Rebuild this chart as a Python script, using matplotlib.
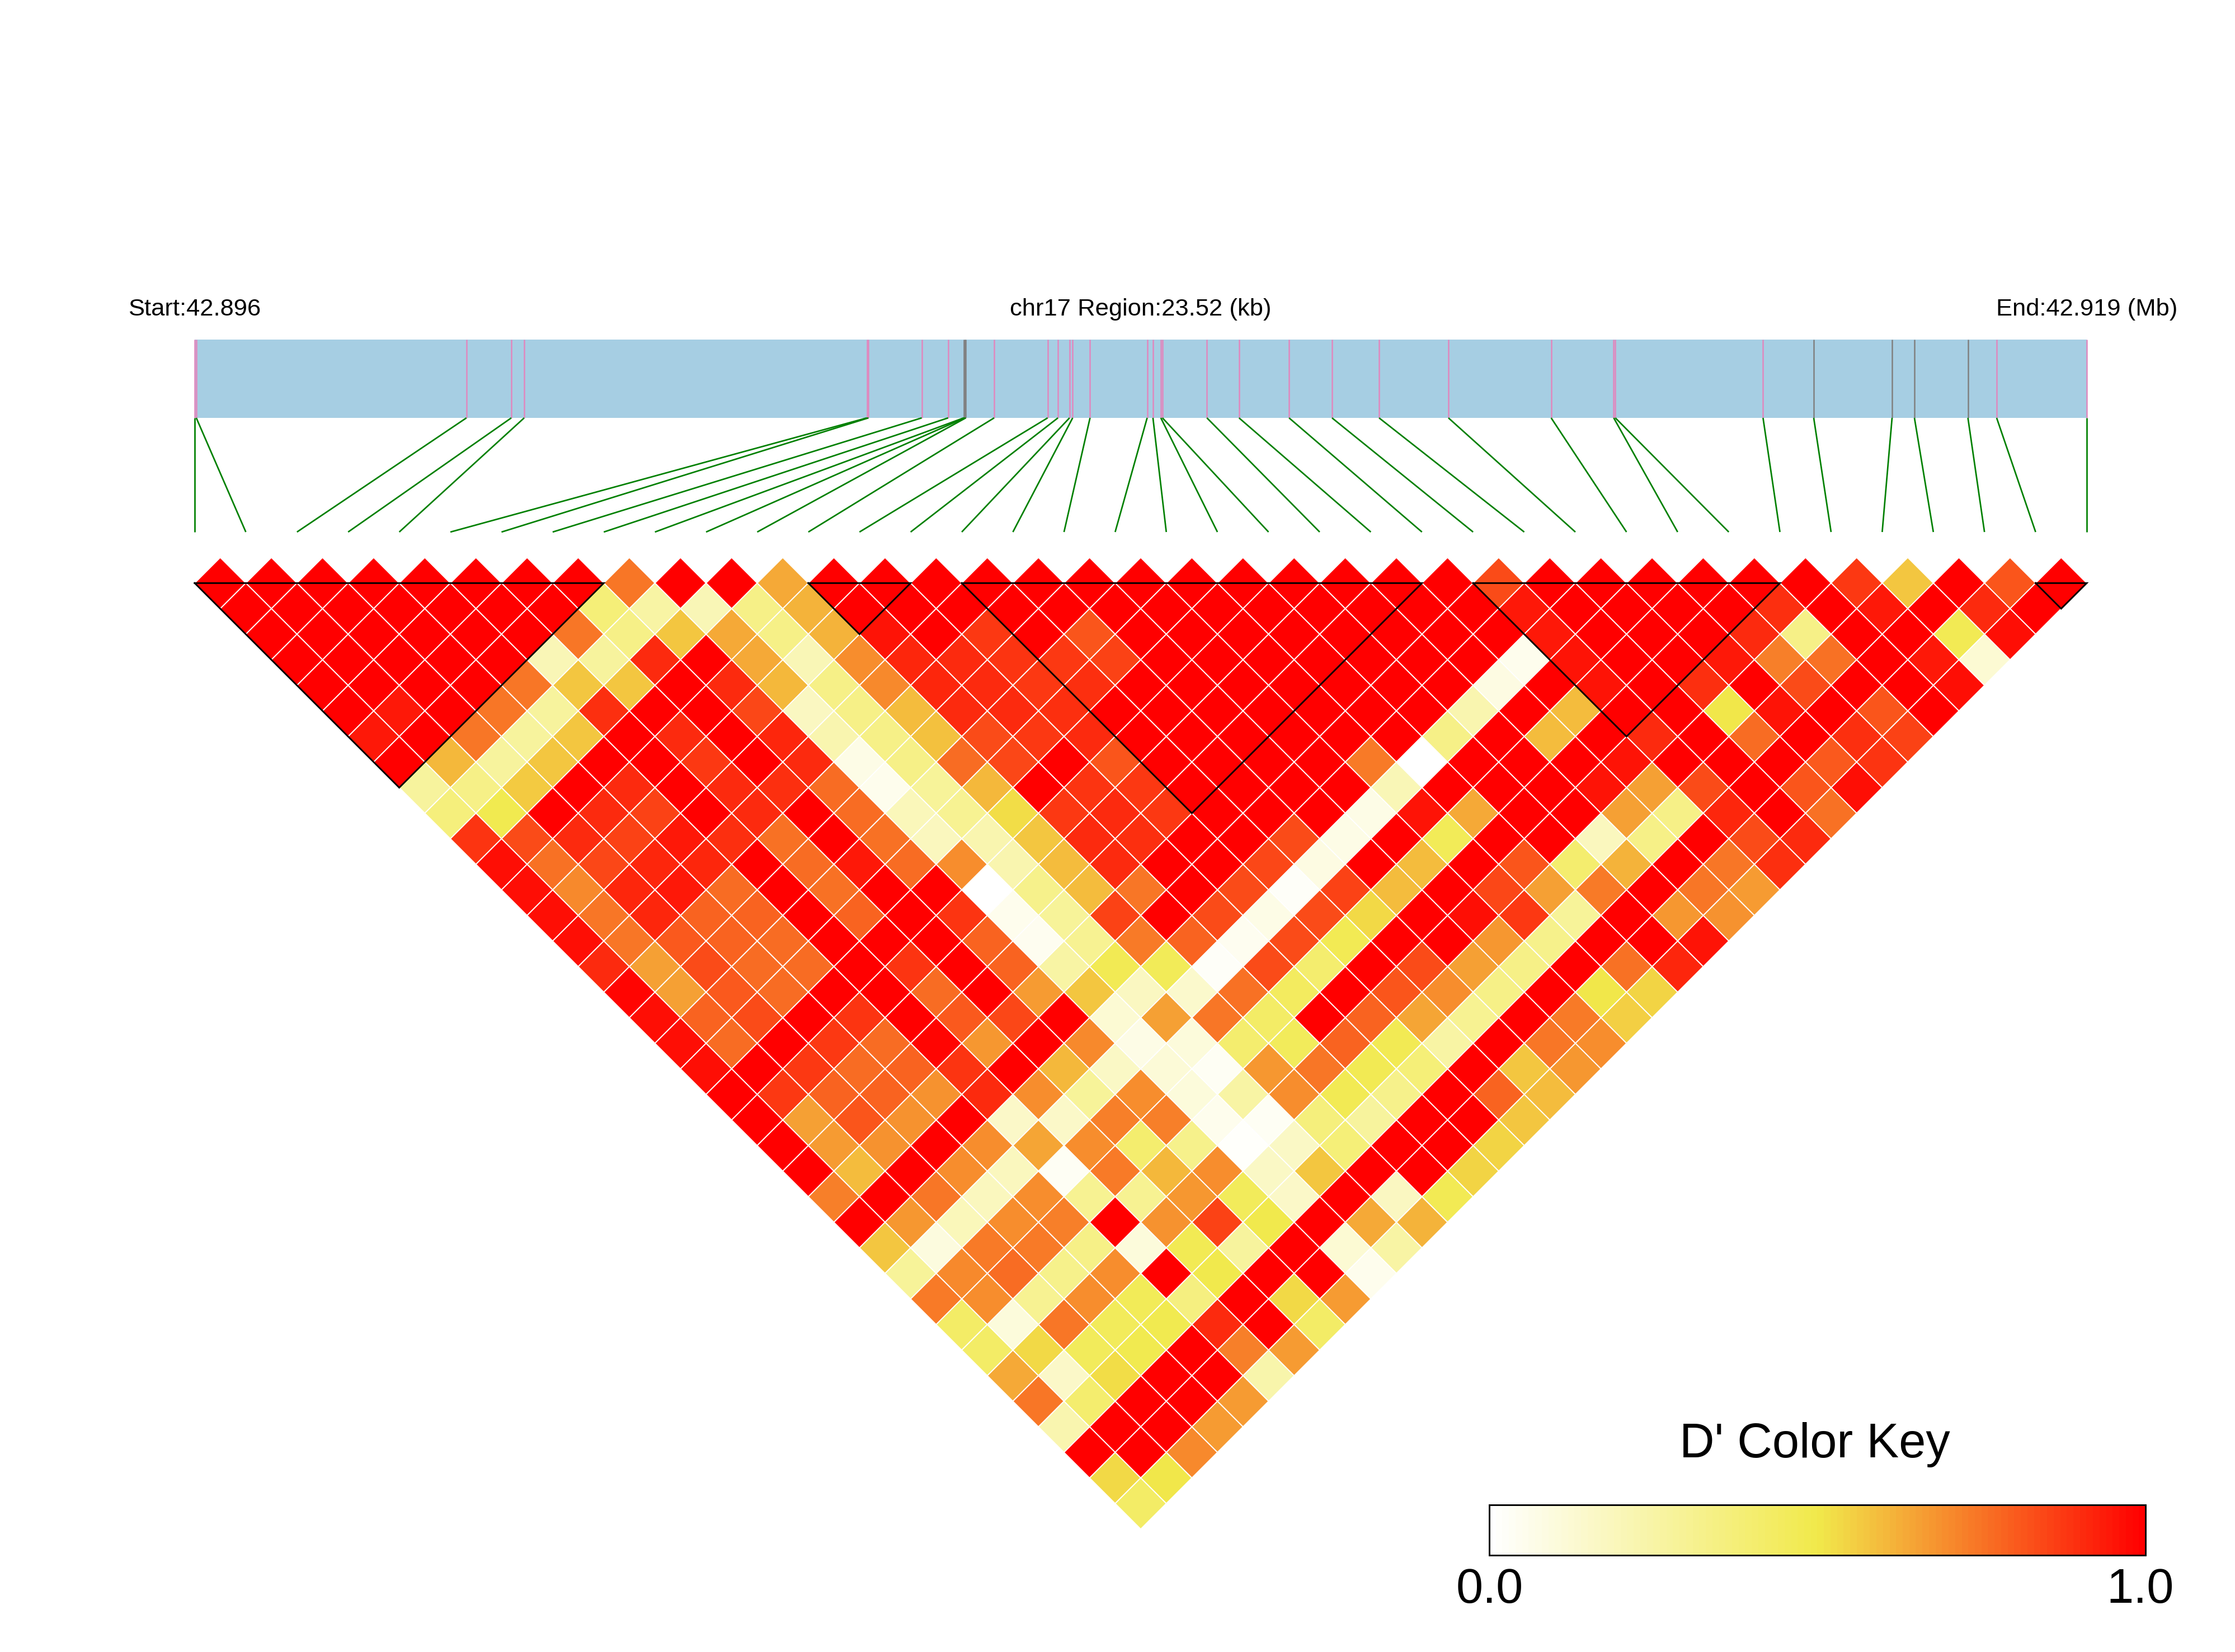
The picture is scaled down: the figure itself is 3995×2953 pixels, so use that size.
import matplotlib
matplotlib.use('Agg')
import matplotlib.pyplot as plt
import numpy as np
from matplotlib.collections import PolyCollection, LineCollection
from matplotlib.colors import LinearSegmentedColormap
from matplotlib.patches import Rectangle

plt.rcParams['font.family'] = ['Liberation Sans', 'DejaVu Sans']

# SNP positions, kb from the start of the region
snp_kb = [0.0, 0.02, 3.378, 3.936, 4.096, 8.356, 8.376, 9.038, 9.366, 9.56, 9.573, 9.586, 9.938,
          10.603, 10.731, 10.875, 10.914, 11.13, 11.84, 11.912, 12.01, 12.03, 12.583, 12.982,
          13.604, 14.138, 14.723, 15.585, 16.862, 17.64, 17.66, 19.496, 20.126, 21.1, 21.378,
          22.043, 22.4, 23.52]
grey_snps = [9, 10, 11, 32, 33, 34, 35]
blocks = [(0, 8), (12, 14), (15, 24), (25, 31), (36, 37)]

# D' values, one list per horizontal row of the triangle, top row first
row_01 = [1]*8 + [.74, 1, 1, .63] + [1]*13 + [.83] + [1]*6 + [.87, .575, 1, .815, 1]
row_02 = [1]*7 + [.37, .25, .2, .33, .61] + [1]*13 + [.94, 1, 1, 1, 1, .895, 1, .94, 1, .905, 1]
row_03 = [1]*6 + [.74, .33, .575, .63, .33, .61, .95, 1, .87, 1, .815] + [1]*8 + [.94, 1, 1, 1, .905, .33, 1, 1, .47, .96]
row_04 = [1]*5 + [.2, .27, .905, 1, .63, .2, .69, .915, .905, .885, .87, .855] + [1]*7 + [.05, .95, 1, 1, .94, .72, .755, 1, .94, .12]
row_05 = [1]*4 + [.74, .58, .575, 1, .905, .60, .33, .70, .915, .905, .87, .895] + [1]*7 + [.08, 1, .95, 1, .895, 1, .83, 1, 1, .96]
row_06 = [1, .94, 1, .74, .27, .895, 1, 1, .845, .17, .33, .59, .905, .905, .895] + [1]*7 + [.22, 1, .595, 1, 1, .5, .95, 1, .815, 1]
row_07 = [.94, 1, .74, .27, .575, 1, .905, 1, .915, .22, .33, .585, .83, .87, .905] + [1]*6 + [.33, 1, .595, 1, .905, 1, .765, 1, .895, .855]
row_08 = [1, .60, .27, .58, 1, 1, .87, 1, .905, .07, .33, .765, .845, 1, .815, 1, 1, 1, 1, .73, 0, 1, 1, 1, .95, 1, 1, 1, .80, .885]
row_09 = [.27, .33, .56, 1, .905, 1, .905, .895, .765, .05, .28, .60, 1, .885, .87, 1, 1, 1, 1, .2, 1, 1, 1, .95, .65, .83, 1, .815, .96]
row_10 = [.36, .48, 1, .905, .855, 1, .905, 1, .765, .19, .3, .52, .87, .905, .87, 1, 1, 1, .07, .95, .63, 1, 1, .65, .33, .915, 1, .755]
row_11 = [.885, .83, .905, .855, .94, .895, .755, 1, .755, .18, .22, .575, .905, .895, 1, 1, .83, .07, 1, .46, 1, 1, .18, .33, 1, .83, .905]
row_12 = [.96, .755, .845, .915, .915, 1, .765, .94, .765, .69, .22, .595, .905, 1, 1, .845, .08, 1, .59, 1, .815, .4, .61, 1, .74, .895]
row_13 = [.96, .70, .915, .94, .765, 1, .755, 1, 1, 0, .32, .595, .74, 1, .83, .02, .855, .59, 1, .845, .65, .73, 1, .74, .66]
row_14 = [.96, .745, .915, .78, .78, 1, .78, 1, .885, .05, .28, .855, 1, .83, .07, .83, .53, 1, .96, .87, .28, 1, .67, .68]
row_15 = [.96, .745, .80, .78, .765, 1, 1, 1, .78, .04, .3, .73, .78, .04, .83, .47, 1, 1, .67, .32, 1, 1, .95]
row_16 = [.905, .65, .83, .765, .765, 1, .885, 1, .78, .25, .47, .46, .02, .83, .4, 1, .83, .65, .33, 1, .755, .915]
row_17 = [.98, .65, .80, .765, 1, 1, .765, 1, .66, .575, .17, .14, .755, .44, 1, .815, .69, .33, 1, .5, .54]
row_18 = [.96, .78, .83, 1, .885, 1, .80, .845, 1, .12, .65, .745, .42, 1, .78, .64, .3, 1, .73, .55]
row_19 = [.96, .765, 1, .87, .765, .98, .67, 1, .70, .07, .1, .4, .45, .78, .47, .25, 1, .74, .69]
row_20 = [.96, 1, .87, .765, .78, .885, 1, .60, .16, .11, .03, .67, .74, .47, .37, 1, .575, .67]
row_21 = [1, .87, .78, .78, .68, .905, .69, .28, .69, .1, .25, .69, .47, .32, 1, .78, .59]
row_22 = [1, .65, .815, .68, 1, .15, .15, .72, .72, .05, .03, .36, .27, 1, 1, .575]
row_23 = [1, .66, .68, 1, .69, .64, .69, .4, .32, .01, .16, .37, 1, 1, .54]
row_24 = [1, .59, 1, .69, .18, .03, .73, .60, .69, .16, .575, 1, 1, .54]
row_25 = [.72, 1, .74, .18, .69, .3, .3, .67, .45, .15, 1, .17, .47]
row_26 = [1, .67, .19, .69, .72, 1, .68, .855, .49, 1, .63, .61]
row_27 = [.58, .09, .73, .73, .33, .1, .47, .27, 1, .12, .25]
row_28 = [.29, .70, .765, .32, .69, 1, .49, 1, 1, .05]
row_29 = [.73, .69, .3, .69, .46, .35, 1, .53, .66]
row_30 = [.42, .1, .74, .45, .48, .905, 1, .42]
row_31 = [.42, .53, .45, .48, 1, .72, .66]
row_32 = [.63, .15, .52, 1, 1, .23]
row_33 = [.74, .4, 1, 1, .66]
row_34 = [.22, 1, 1, .66]
row_35 = [1, 1, .70]
row_36 = [.53, .505]
row_37 = [.42]
rows = [row_01, row_02, row_03, row_04, row_05, row_06, row_07, row_08, row_09, row_10,
        row_11, row_12, row_13, row_14, row_15, row_16, row_17, row_18, row_19, row_20,
        row_21, row_22, row_23, row_24, row_25, row_26, row_27, row_28, row_29, row_30,
        row_31, row_32, row_33, row_34, row_35, row_36, row_37]
n_snps = len(snp_kb)
assert all(len(r) == n_snps - d - 1 for d, r in enumerate(rows))

# Layout, in pixels of the final picture
X0, X1 = 348.0, 3730.0
STEP = (X1 - X0) / (n_snps - 1)
HALF = STEP / 2
Y_MID = 1042.3
BAR_TOP, BAR_BOT, LINK_BOT = 607.0, 747.0, 951.0
KEY_L, KEY_R, KEY_T, KEY_B = 2662.0, 3835.0, 2690.0, 2780.0

ld_cmap = LinearSegmentedColormap.from_list(
    'ld', [(0, '#FFFFFF'), (0.5, '#F1E94B'), (1, '#FF0000')], N=100)

fig = plt.figure(figsize=(3995 / 300, 2953 / 300), dpi=300)
ax = fig.add_axes([0, 0, 1, 1])
ax.set_xlim(0, 3995)
ax.set_ylim(2953, 0)
ax.axis('off')

# Gene bar with SNP ticks and the links down to the heatmap
snp_x = X0 + np.array(snp_kb) / snp_kb[-1] * (X1 - X0)
ax.add_patch(Rectangle((X0, BAR_TOP), X1 - X0, BAR_BOT - BAR_TOP, color='#A6CEE3', lw=0))
tick_cols = ['#808080' if i in grey_snps else '#E088BE' for i in range(n_snps)]
ax.vlines(snp_x, BAR_TOP, BAR_BOT, colors=tick_cols, lw=0.6)
links = [[(snp_x[i], BAR_BOT), (X0 + i * STEP, LINK_BOT)] for i in range(n_snps)]
ax.add_collection(LineCollection(links, colors='#008000', lw=0.65))

# LD triangle
polys = []
vals = []
for d, r in enumerate(rows):
    for k, v in enumerate(r):
        cx = X0 + (d + 1) * HALF + k * STEP
        cy = Y_MID + d * HALF
        polys.append([(cx - HALF, cy), (cx, cy - HALF), (cx + HALF, cy), (cx, cy + HALF)])
        vals.append(v)
cells = PolyCollection(polys, array=np.array(vals), cmap=ld_cmap, clim=(0, 1),
                       edgecolors='white', linewidths=0.45, zorder=2)
ax.add_collection(cells)

# LD blocks
for a, b in blocks:
    xa, xb = X0 + a * STEP, X0 + b * STEP
    ax.plot([xa, xb, (xa + xb) / 2, xa], [Y_MID, Y_MID, Y_MID + (b - a) * HALF, Y_MID],
            color='black', lw=0.7, zorder=3, solid_joinstyle='miter')

# Header text
ax.text(X0, 564, 'Start:42.896', fontsize=10.45, ha='center', va='baseline')
ax.text((X0 + X1) / 2, 564, 'chr17 Region:23.52 (kb)', fontsize=10.45, ha='center', va='baseline')
ax.text(X1, 564, 'End:42.919 (Mb)', fontsize=10.45, ha='center', va='baseline')

# Colour key
key_edges = np.linspace(KEY_L, KEY_R, 101)
key_vals = np.linspace(0, 1, 100).reshape(1, -1)
ax.pcolormesh(key_edges, [KEY_T, KEY_B], key_vals, cmap=ld_cmap, vmin=0, vmax=1, zorder=2)
ax.add_patch(Rectangle((KEY_L, KEY_T), KEY_R - KEY_L, KEY_B - KEY_T, fill=False,
                       ec='black', lw=0.7, zorder=3))
ax.text(3244, 2605, "D' Color Key", fontsize=20.8, ha='center', va='baseline')
ax.text(2663, 2865, '0.0', fontsize=20.8, ha='center', va='baseline')
ax.text(3826, 2865, '1.0', fontsize=20.8, ha='center', va='baseline')

fig.savefig('out.png', dpi=300, facecolor='white')
